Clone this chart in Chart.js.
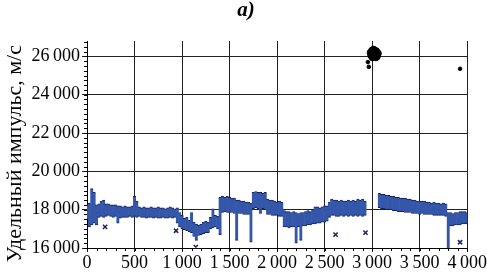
<!DOCTYPE html>
<html><head><meta charset="utf-8">
<script src="https://cdn.jsdelivr.net/npm/chart.js@4/dist/chart.umd.min.js"></script>
<style>html,body{margin:0;padding:0;background:#fff;}</style>
</head><body>
<canvas id="c" width="487" height="273"></canvas>
<script>
// ---- data ----
const bandX = [
  0,25,50,75,100,125,150,175,200,225,
  250,275,300,325,350,375,400,425,450,475,
  500,525,550,575,600,625,650,675,700,725,
  750,775,800,825,850,875,900,925,
  950,975,1000,1025,1050,1075,1100,1125,1150,1175,
  1200,1225,1250,1275,1300,1325,1350,1375,1400,1425,
  1450,1475,1500,1525,1550,1575,1600,1625,1650,1675,
  1700,1725,1750,1775,1800,1825,1850,1875,1900,1925,
  1950,1975,2000,2025,2050,2075,2100,2125,2150,2175,
  2200,2225,2250,2275,2300,2325,2350,2375,2400,2425,
  2450,2475,2500,2525,2550,2575,2600,2625,2650,2675,
  2700,2725,2750,2775,2800,2825,2850,2875,2900,2925,
  3075,3100,3125,3150,3175,3200,3225,3250,3275,3300,
  3325,3350,3375,3400,3425,3450,3475,3500,3525,3550,
  3575,3600,3625,3650,3675,3700,3725,3750,3775,3800,
  3825,3850,3875,3900,3925,3950,3975,4000
];
const bandLow = [
  17500,17100,17200,17300,17200,17600,17650,17600,17650,17700,
  17650,17600,17650,17300,17550,17600,17600,17600,17650,17600,
  17650,17600,17650,17600,17600,17550,17600,17600,17550,17600,
  17550,17550,17600,17550,17550,17600,17550,17600,
  17300,17100,17000,16950,16900,16850,16800,16600,16400,16650,
  16700,16750,16800,16800,17000,17050,17100,17000,16700,17850,
  17900,17850,17850,17850,17800,16400,17800,17800,17750,17750,
  17750,16300,18050,18100,18050,17800,18050,18000,17750,17750,
  17700,17700,17700,17650,17650,17100,17100,17050,17100,17100,
  16250,17100,16400,17150,17150,17200,17200,17250,17250,17300,
  17300,17350,17350,17400,17600,17700,17700,17650,17650,17700,
  17650,17700,17650,17700,17650,17700,17650,17700,17650,17700,
  18100,18050,18050,18000,18000,18000,17950,17950,17900,17900,
  17900,17850,17850,17850,17800,17800,17800,17750,17800,17750,
  17750,17750,17750,17700,17700,17700,17700,17700,17650,15700,
  17150,17150,17200,17200,17200,17250,17250,17250
];
const bandHigh = [
  18250,18350,19100,18900,18250,18300,18450,18500,18300,18300,
  18250,18250,18250,18200,18200,18150,18200,18150,18150,18200,
  18700,18450,18150,18100,18150,18100,18100,18150,18100,18100,
  18150,18100,18100,18050,18100,18150,18100,18050,
  18100,17850,17700,17550,17600,17450,17850,17350,17250,17200,
  17250,17350,17400,17350,17600,18050,17700,17650,18650,18700,
  18650,18700,18650,18600,18600,18500,18500,18450,18450,18400,
  18400,18350,18900,18950,18900,18900,18850,18900,18550,18500,
  18500,18450,18400,18450,18400,17950,17900,17900,17850,17900,
  17850,17800,17850,17850,17900,17950,17900,18000,18150,18150,
  18100,18150,18200,18200,18400,18550,18500,18500,18450,18500,
  18450,18450,18500,18450,18500,18450,18550,18500,18550,18450,
  18850,18800,18800,18750,18750,18700,18700,18650,18650,18600,
  18600,18600,18550,18550,18500,18500,18450,18450,18450,18450,
  18400,18400,18350,18400,18350,18350,18300,18350,18300,17850,
  17850,17800,17850,17850,17900,17900,17900,17850
];
const crossX = [190, 937, 1145, 2615, 2930, 3925];
const crossY = [17100, 16900, 16050, 16700, 16800, 16300];
// dense black cluster near 3000
const blobX = [2985, 3000, 3015, 3030, 3045, 3060, 2990, 3010, 3030, 3050, 3005, 3040];
const blobY = [26200, 26300, 26350, 26300, 26250, 26150, 26050, 26150, 26100, 26000, 25950, 25950];
// isolated small black points
const dotX = [2955, 2965, 3925];
const dotY = [25700, 25450, 25350];
const xTickValues = [0,500,1000,1500,2000,2500,3000,3500,4000];
const yTickValues = [16000,18000,20000,22000,24000,26000];
const titleText = 'а)';
const yTitleText = 'Удельный импульс, м/с';

// ---- build chart ----
const SERIF = "'Liberation Serif','DejaVu Serif',serif";
const fmt = v => {
  const s = String(Math.round(v));
  return s.length > 3 ? s.slice(0, s.length - 3) + '\u2009' + s.slice(-3) : s;
};
const bandData = bandX.map((x, i) => ({x: x, y: [bandLow[i], bandHigh[i]]}));
const crossPts = crossX.map((x, i) => ({x: x, y: crossY[i]}));
const blobPts = blobX.map((x, i) => ({x: x, y: blobY[i]}));
const dotPts = dotX.map((x, i) => ({x: x, y: dotY[i]}));

const extras = {
  id: 'extras',
  afterDraw(chart) {
    const c = chart.ctx, xs = chart.scales.x, ys = chart.scales.y, a = chart.chartArea;
    c.save();
    c.strokeStyle = '#000'; c.lineWidth = 1;
    c.beginPath();
    for (let v = 16000; v <= 26800; v += 250) {
      const p = Math.round(ys.getPixelForValue(v)) + 0.5;
      c.moveTo(a.left - 3, p); c.lineTo(a.left, p);
    }
    for (let v = 0; v <= 4000; v += 100) {
      const p = Math.round(xs.getPixelForValue(v)) + 0.5;
      c.moveTo(p, a.bottom); c.lineTo(p, a.bottom + 3);
    }
    c.stroke();
    c.fillStyle = '#000';
    c.font = 'bold italic 21px ' + SERIF;
    c.textAlign = 'center'; c.textBaseline = 'middle';
    c.fillText(titleText, 246, 11);
    c.translate(15, 45);
    c.rotate(-Math.PI / 2);
    c.font = '22px ' + SERIF;
    c.textAlign = 'right'; c.textBaseline = 'middle';
    c.fillText(yTitleText, 0, 0);
    c.restore();
  }
};

new Chart(document.getElementById('c'), {
  type: 'bar',
  data: {
    datasets: [
      {type: 'scatter', data: blobPts, pointStyle: 'circle', pointRadius: 3.5,
       backgroundColor: '#000', borderColor: '#000', borderWidth: 1, order: 1},
      {type: 'scatter', data: dotPts, pointStyle: 'circle', pointRadius: 1.8,
       backgroundColor: '#000', borderColor: '#000', borderWidth: 1, order: 1},
      {type: 'scatter', data: crossPts, pointStyle: 'crossRot', pointRadius: 3,
       borderColor: '#1a2560', borderWidth: 1.5, order: 1},
      {type: 'bar', data: bandData, backgroundColor: '#3457aa', borderColor: '#16215e',
       borderWidth: {top: 1, bottom: 1, left: 0, right: 0}, borderSkipped: false,
       barThickness: 3, grouped: false, order: 2}
    ]
  },
  options: {
    responsive: false, animation: false,
    layout: {padding: {top: 41, right: 15, left: 0, bottom: 0}},
    plugins: {legend: {display: false}, tooltip: {enabled: false}, title: {display: false}},
    scales: {
      x: {
        type: 'linear', min: 0, max: 4000, offset: false,
        afterBuildTicks: ax => { ax.ticks = xTickValues.map(v => ({value: v})); },
        afterFit: s => { s.height = 25; },
        ticks: {callback: fmt, color: '#000', font: {family: SERIF, size: 18}, maxRotation: 0, autoSkip: false, padding: 0},
        grid: {color: '#222', lineWidth: 1, tickLength: 4, offset: false},
        border: {color: '#000', width: 1}
      },
      y: {
        type: 'linear', min: 16000, max: 26800,
        afterBuildTicks: ax => { ax.ticks = yTickValues.map(v => ({value: v})); },
        afterFit: s => { s.width = 87; },
        ticks: {callback: fmt, color: '#000', font: {family: SERIF, size: 18}, padding: 2},
        grid: {color: '#222', lineWidth: 1, tickLength: 5},
        border: {color: '#000', width: 1}
      }
    }
  },
  plugins: [extras]
});
</script>
</body></html>
